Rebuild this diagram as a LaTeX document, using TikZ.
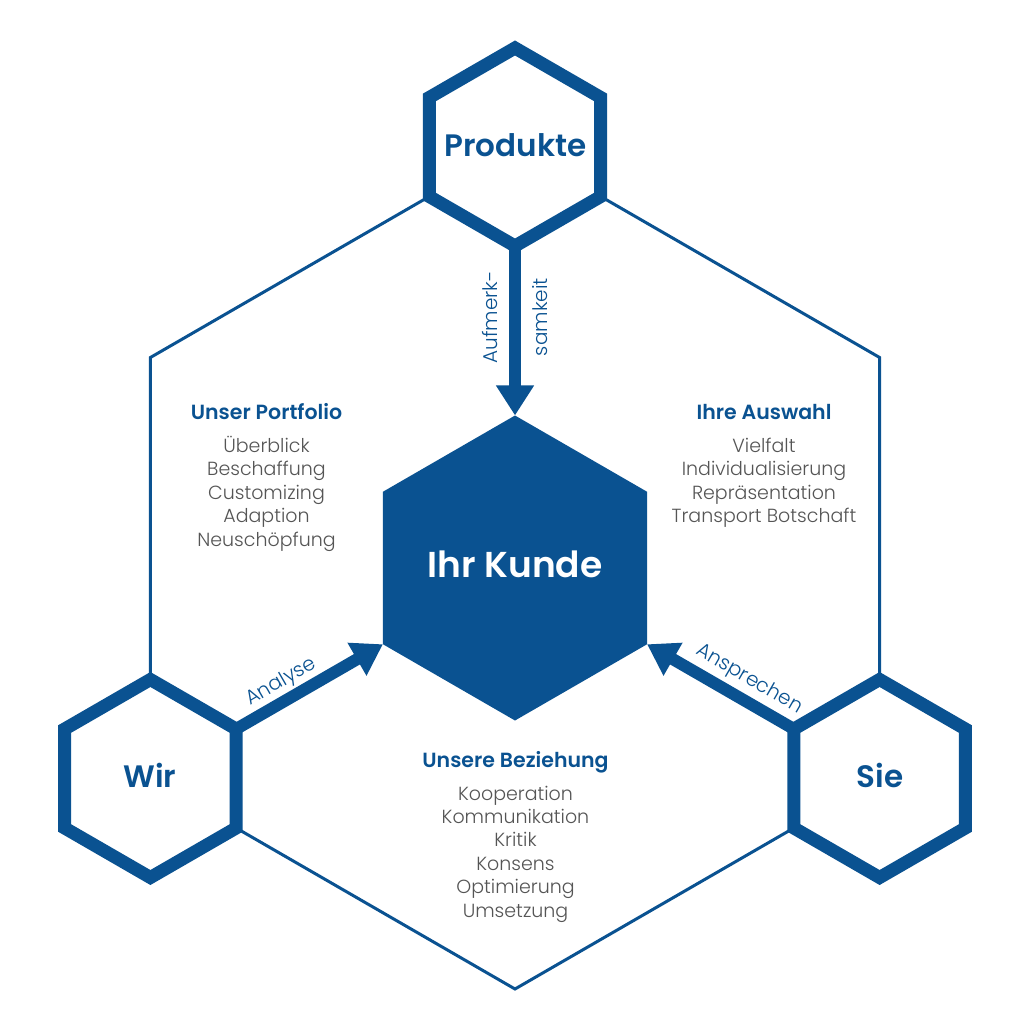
\documentclass[tikz,border=0pt]{standalone}
\usepackage{fontspec}
\setmainfont{Poppins}
\newfontfamily\lightfont{Poppins Light}
\newfontfamily\semifont{Poppins SemiBold}
\usetikzlibrary{shapes.geometric,arrows.meta}
\definecolor{hexblue}{RGB}{10,82,145}
\definecolor{txtgray}{RGB}{85,85,85}
\begin{document}
\begin{tikzpicture}[x=1pt,y=-1pt,
  hexbase/.style={regular polygon, regular polygon sides=6, shape border rotate=30, inner sep=0pt},
  bighex/.style={hexbase, draw=hexblue, line width=3pt, minimum size=842pt},
  smallhex/.style={hexbase, draw=hexblue, fill=white, line width=13pt, minimum size=198pt, outer sep=0pt},
  corehex/.style={hexbase, fill=hexblue, minimum size=305pt, outer sep=0pt},
  hextitle/.style={text=hexblue, font=\semifont\fontsize{31}{36}\selectfont, anchor=base, inner sep=0pt},
  coretitle/.style={text=white, font=\semifont\fontsize{36}{42}\selectfont, anchor=base, inner sep=0pt},
  flow/.style={draw=hexblue, line width=12pt, -{Triangle[width=36pt,length=30pt]}},
  head/.style={text=hexblue, font=\semifont\fontsize{20.5}{24}\selectfont, anchor=base, inner sep=0pt},
  item/.style={text=txtgray, font=\lightfont\fontsize{19}{23}\selectfont, anchor=base, inner sep=0pt},
  lbl/.style={text=hexblue, font=\lightfont\fontsize{20}{24}\selectfont, inner sep=0pt},
]
\fill[white] (0,0) rectangle (1030,1030);
\useasboundingbox (0,0) rectangle (1030,1030);

\node[bighex] (big) at (515,568) {};
\node[smallhex] (prod) at (515,147) {};
\node[smallhex] (wir) at (150.4,778.5) {};
\node[smallhex] (sie) at (879.6,778.5) {};
\node[corehex] (kunde) at (515,568) {};

\node[hextitle] (prodtxt) at (515.5,157) {Produkte};
\node[hextitle] (wirtxt) at (150,787) {Wir};
\node[hextitle] (sietxt) at (880,787) {Sie};
\node[coretitle] (kundetxt) at (515,577) {Ihr Kunde};

\draw[flow] (prod.-90) -- (kunde.90);
\draw[flow] (wir.30) -- (kunde.-150);
\draw[flow] (sie.150) -- (kunde.-30);

\path (prod.-90) -- (kunde.90) coordinate[pos=0.42] (m1);
\path (wir.30) -- (kunde.-150) coordinate[pos=0.37] (m2);
\path (sie.150) -- (kunde.-30) coordinate[pos=0.375] (m3);

\node[lbl, rotate=90] (auf1) at ([xshift=-25pt]m1) {Aufmerk-};
\node[lbl, rotate=90] (auf2) at ([xshift=25pt]m1) {samkeit};
\node[lbl, rotate=30] (ana) at ([xshift=-9pt,yshift=15.5pt]m2) {Analyse};
\node[lbl, rotate=-30] (ans) at ([xshift=10.2pt,yshift=17.7pt]m3) {Ansprechen};

\node[head] (h1) at (266.5,419) {Unser Portfolio};
\foreach \t [count=\i] in {Überblick, Beschaffung, Customizing, Adaption, Neuschöpfung}
  \node[item] (pf\i) at (266.5,{452+23.5*(\i-1)}) {\t};

\node[head] (h2) at (764,419) {Ihre Auswahl};
\foreach \t [count=\i] in {Vielfalt, Individualisierung, Repräsentation, Transport Botschaft}
  \node[item] (aw\i) at (764,{452+23.5*(\i-1)}) {\t};

\node[head] (h3) at (515.5,767) {Unsere Beziehung};
\foreach \t [count=\i] in {Kooperation, Kommunikation, Kritik, Konsens, Optimierung, Umsetzung}
  \node[item] (bz\i) at (515.5,{800+23.4*(\i-1)}) {\t};
\end{tikzpicture}
\end{document}
